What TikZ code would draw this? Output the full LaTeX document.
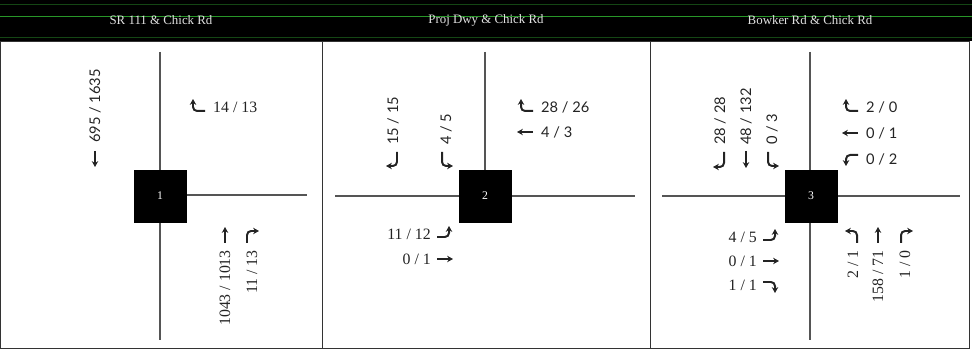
\documentclass[tikz,border=0pt]{standalone}
\usepackage{fontspec}
\setmainfont{Liberation Serif}
\newfontfamily\lblsansfont{Lato}
\usetikzlibrary{arrows.meta}
\definecolor{hdrgreen}{RGB}{40,150,40}
\definecolor{hdrdark}{RGB}{20,70,20}
\definecolor{roadgray}{RGB}{85,85,85}
\definecolor{inkgray}{RGB}{35,35,35}
\tikzset{
  road/.style={draw=roadgray, line width=1.2pt},
  sigbox/.style={fill=black, draw=black, minimum width=1.55cm, minimum height=1.55cm,
                 inner sep=0pt, text=white, font=\fontsize{10}{11}\selectfont},
  title/.style={text=black!12, font=\fontsize{11}{12}\selectfont},
  lblserif/.style={text=inkgray, inner sep=0pt, font=\fontsize{13.5}{15}\selectfont},
  lblsans/.style={text=inkgray, inner sep=0pt, font=\lblsansfont\fontsize{12.5}{15}\selectfont},
  turn/.style={draw=inkgray, -{Stealth[length=5pt,width=5.5pt]}, line width=1.7pt, rounded corners=3.5pt},
}
\begin{document}
\begin{tikzpicture}[x=0.03cm, y=-0.03cm]
  \useasboundingbox (0,0) rectangle (972,349);
  % header bar
  \fill[black] (0,0) rectangle (972,41);
  \draw[hdrdark, line width=0.8pt] (0,4) -- (972,4);
  \draw[hdrgreen, line width=0.8pt] (0,16) -- (972,16);
  \draw[hdrdark, line width=0.8pt] (0,37.5) -- (972,37.5);
  \node[title] (t1) at (161,20) {SR 111 \& Chick Rd};
  \node[title] (t2) at (486,20) {Proj Dwy \& Chick Rd};
  \node[title] (t3) at (810,20) {Bowker Rd \& Chick Rd};
  % panels
  \draw[black!80, line width=0.6pt] (0.5,41) rectangle (969,348.5);
  \draw[black!80, line width=0.8pt] (322,41) -- (322,349);
  \draw[black!80, line width=0.8pt] (650,41) -- (650,349);

  % ---- intersection 1
  \coordinate (n1) at (160,52);
  \coordinate (s1) at (160,340);
  \coordinate (e1) at (307,195);
  \draw[road] (n1) -- (s1);
  \draw[road] (160,195) -- (e1);
  \node[sigbox] (b1) at (160,196) {1};
  \node[lblsans, rotate=90, anchor=west] (sbt1) at (95,143) {695 / 1635};
  \draw[turn] (95,151) -- (95,167);
  \draw[turn] (205,111) -| (193,99);
  \node[lblserif, anchor=west] (wbr1) at (213,107) {14 / 13};
  \draw[turn] (225,243) -- (225,227);
  \node[lblserif, rotate=90, anchor=east] (nbt1) at (225,250) {1043 / 1013};
  \draw[turn] (247,243) |- (259,231);
  \node[lblserif, rotate=90, anchor=east] (nbr1) at (252,250) {11 / 13};

  % ---- intersection 2
  \coordinate (n2) at (485,52);
  \coordinate (w2) at (335,196);
  \coordinate (e2) at (635,196);
  \draw[road] (n2) -- (485,196);
  \draw[road] (w2) -- (e2);
  \node[sigbox] (b2) at (485,196) {2};
  \node[lblsans, rotate=90, anchor=west] (sbr2) at (393,145) {15 / 15};
  \draw[turn] (397,152) |- (386,166);
  \node[lblsans, rotate=90, anchor=west] (sbl2) at (446,145) {4 / 5};
  \draw[turn] (442,152) |- (453,166);
  \draw[turn] (533,111) -| (521,99);
  \node[lblsans, anchor=west] (wbr2) at (541,107) {28 / 26};
  \draw[turn] (533,132) -- (517,132);
  \node[lblsans, anchor=west] (wbt2) at (541,132) {4 / 3};
  \node[lblserif, anchor=east] (ebl2) at (431,234) {11 / 12};
  \draw[turn] (437,237) -| (449,226);
  \node[lblserif, anchor=east] (ebt2) at (431,259) {0 / 1};
  \draw[turn] (437,259) -- (453,259);

  % ---- intersection 3
  \coordinate (n3) at (810,52);
  \coordinate (s3) at (810,340);
  \coordinate (w3) at (662,196);
  \coordinate (e3) at (960,196);
  \draw[road] (n3) -- (s3);
  \draw[road] (w3) -- (e3);
  \node[sigbox] (b3) at (811,196) {3};
  \node[lblsans, rotate=90, anchor=west] (sbr3) at (720,145) {28 / 28};
  \draw[turn] (724,152) |- (713,167);
  \node[lblsans, rotate=90, anchor=west] (sbt3) at (746,145) {48 / 132};
  \draw[turn] (746,151) -- (746,168);
  \node[lblsans, rotate=90, anchor=west] (sbl3) at (772,145) {0 / 3};
  \draw[turn] (768,152) |- (779,166);
  \draw[turn] (858,111) -| (846,99);
  \node[lblsans, anchor=west] (wbr3) at (866,107) {2 / 0};
  \draw[turn] (858,133) -- (842,133);
  \node[lblsans, anchor=west] (wbt3) at (866,133) {0 / 1};
  \draw[turn] (858,155) -| (846,166);
  \node[lblsans, anchor=west] (wbl3) at (866,159) {0 / 2};
  \node[lblserif, anchor=east] (ebl3) at (757,237) {4 / 5};
  \draw[turn] (763,240) -| (775,229);
  \node[lblserif, anchor=east] (ebt3) at (757,261) {0 / 1};
  \draw[turn] (763,261) -- (779,261);
  \node[lblserif, anchor=east] (ebr3) at (757,285) {1 / 1};
  \draw[turn] (763,282) -| (775,293);
  \draw[turn] (857,243) |- (845,231);
  \node[lblserif, rotate=90, anchor=east] (nbl3) at (853,250) {2 / 1};
  \draw[turn] (878,243) -- (878,227);
  \node[lblserif, rotate=90, anchor=east] (nbt3) at (878,250) {158 / 71};
  \draw[turn] (901,243) |- (913,231);
  \node[lblserif, rotate=90, anchor=east] (nbr3) at (905,250) {1 / 0};
\end{tikzpicture}
\end{document}
